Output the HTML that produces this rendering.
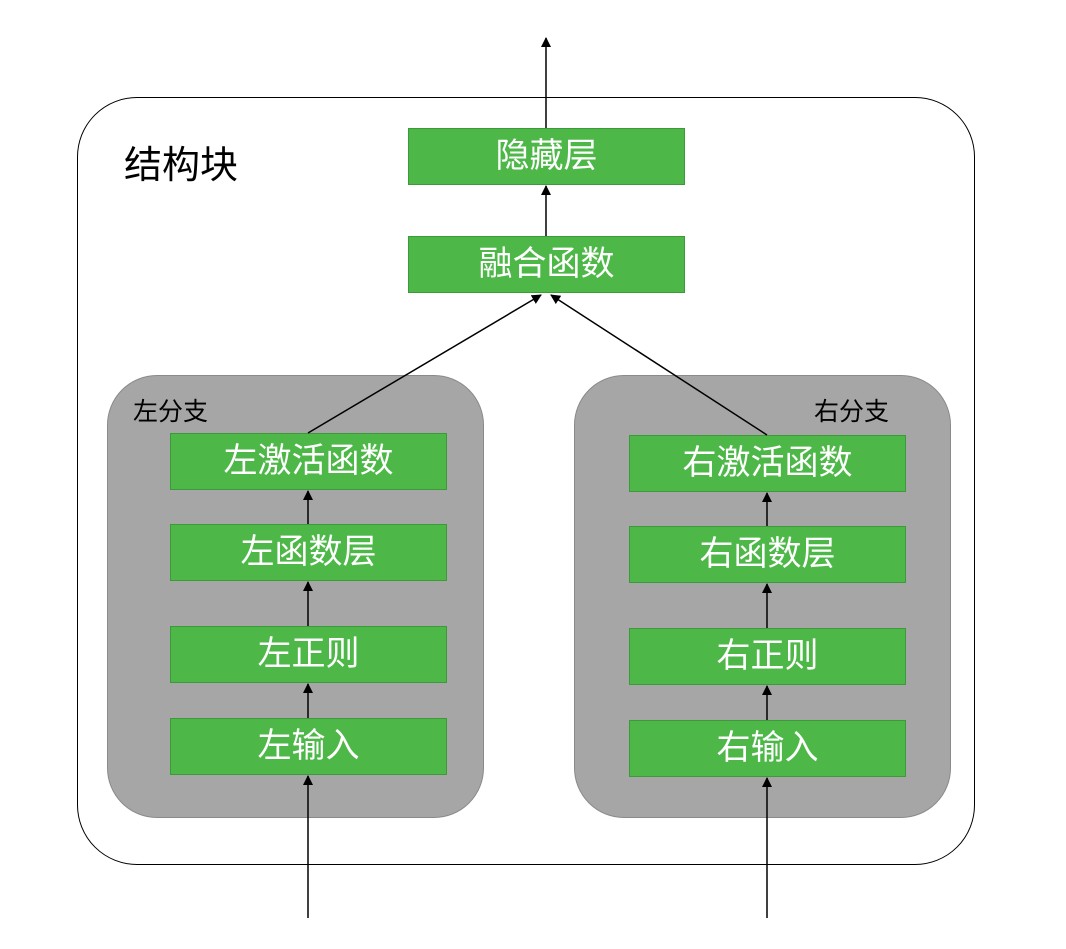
<!DOCTYPE html>
<html><head><meta charset="utf-8"><style>
body{margin:0;width:1066px;height:949px;background:#fff;overflow:hidden;font-family:"Liberation Sans","Noto Sans CJK SC",sans-serif;}
.a{position:absolute;}
.g{position:absolute;background:#4db848;border:1px solid #3d9a3a;color:#fff;font-size:34px;text-align:center;box-sizing:border-box;width:277px;height:57px;line-height:55px;}
.gray{position:absolute;background:#a6a6a6;border:1px solid #8a8a8a;border-radius:50px;box-sizing:border-box;width:377px;height:443px;top:375px;}
</style></head><body>
<div class="a" style="left:77px;top:97px;width:898px;height:768px;border:1.5px solid #000;border-radius:60px;box-sizing:border-box;"></div>
<div class="a" style="left:124px;top:134px;font-size:38px;">结构块</div>
<div class="gray" style="left:107px;"></div>
<div class="gray" style="left:574px;"></div>
<div class="a" style="left:133px;top:392px;font-size:25px;">左分支</div>
<div class="a" style="left:814px;top:392px;font-size:25px;">右分支</div>
<div class="g" style="left:408px;top:128px;">隐藏层</div>
<div class="g" style="left:408px;top:236px;">融合函数</div>
<div class="g" style="left:170px;top:433px;">左激活函数</div>
<div class="g" style="left:170px;top:524px;">左函数层</div>
<div class="g" style="left:170px;top:626px;">左正则</div>
<div class="g" style="left:170px;top:718px;">左输入</div>
<div class="g" style="left:629px;top:435px;">右激活函数</div>
<div class="g" style="left:629px;top:526px;">右函数层</div>
<div class="g" style="left:629px;top:628px;">右正则</div>
<div class="g" style="left:629px;top:720px;">右输入</div>
<svg class="a" style="left:0;top:0" width="1066" height="949">
<defs><marker id="m" markerWidth="10" markerHeight="12" refX="9" refY="5" orient="auto" markerUnits="userSpaceOnUse"><path d="M0,0 L10,5 L0,10z" fill="#000"/></marker></defs>
<g stroke="#000" stroke-width="1.5" fill="none" marker-end="url(#m)">
<line x1="546" y1="128" x2="546" y2="38"/>
<line x1="546" y1="236" x2="546" y2="186"/>
<line x1="308" y1="433" x2="541" y2="295"/>
<line x1="767" y1="435" x2="551" y2="295"/>
<line x1="308" y1="524" x2="308" y2="491"/>
<line x1="308" y1="626" x2="308" y2="582"/>
<line x1="308" y1="718" x2="308" y2="684"/>
<line x1="308" y1="918" x2="308" y2="776"/>
<line x1="767" y1="526" x2="767" y2="493"/>
<line x1="767" y1="628" x2="767" y2="584"/>
<line x1="767" y1="720" x2="767" y2="686"/>
<line x1="767" y1="918" x2="767" y2="778"/>
</g></svg>
</body></html>
